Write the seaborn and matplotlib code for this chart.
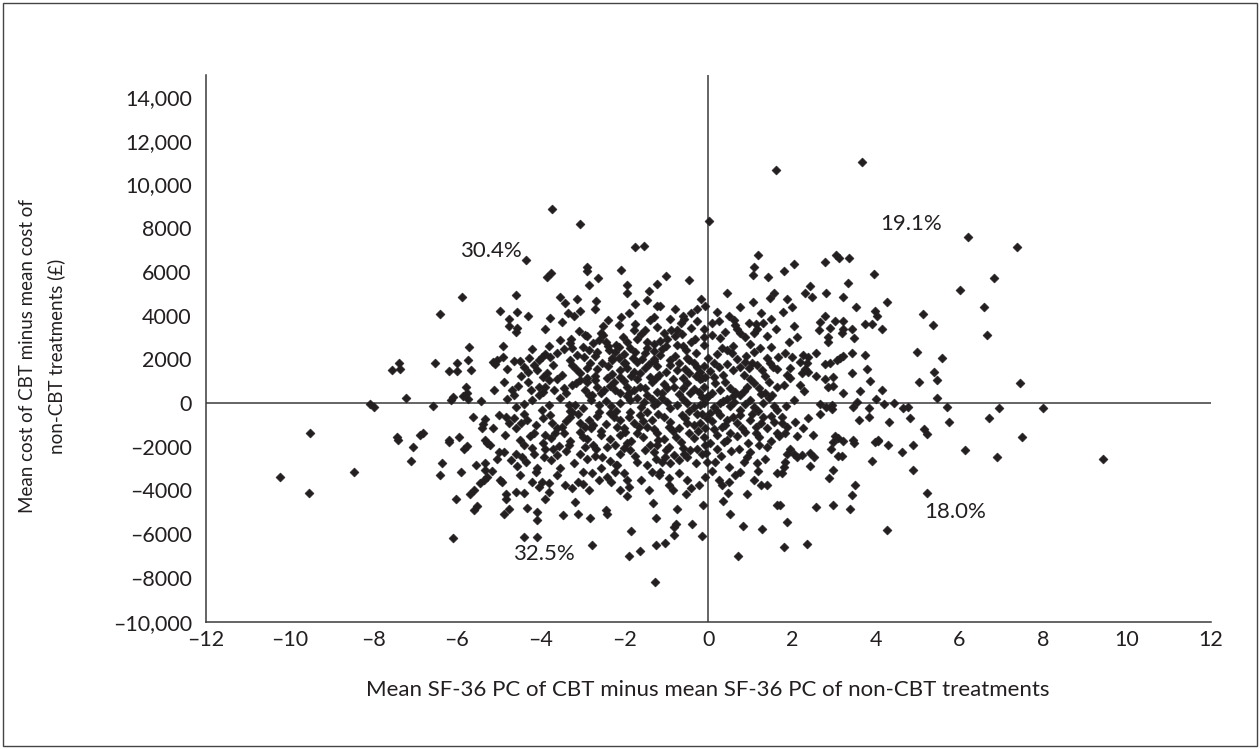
import matplotlib
matplotlib.use("Agg")
import matplotlib.pyplot as plt
import seaborn as sns
import pandas as pd
from matplotlib.patches import Rectangle

# Bootstrap replicates (difference in SF-36 PC, difference in cost £)
points_upper = [
    (-3.73, 8880), (-3.07, 8170), (0.01, 8330), (1.61, 10670), (-4.34, 6550), (-3.85, 5780),
    (-3.75, 5940), (-2.89, 6240), (-2.89, 6040), (-2.63, 5720), (-2.08, 6100), (-1.74, 7130),
    (-1.54, 7190), (-1.01, 5800), (-0.45, 5630), (1.06, 5860), (1.09, 6240), (1.19, 6780),
    (1.44, 5750), (3.67, 11000), (6.21, 7600), (7.37, 7130), (1.80, 6060), (2.05, 6360),
    (2.78, 6440), (3.05, 6750), (3.13, 6610), (3.36, 6620), (3.96, 5900), (6.83, 5700),
]
points_far_left = [
    (-5.87, 4870), (-6.41, 4050), (-4.98, 4230), (-5.72, 2580), (-7.38, 1850), (-7.54, 1510),
    (-7.35, 1540), (-6.52, 1820), (-5.99, 1850), (-5.74, 1970), (-6.19, 1450), (-6.00, 1450),
    (-5.66, 1510), (-5.14, 1890), (-5.05, 1970), (-5.08, 1790), (-5.11, 590), (-5.78, 720),
    (-5.76, 440), (-5.86, 320), (-5.73, 180), (-6.10, 260), (-6.13, 140), (-7.22, 240),
    (-5.42, 90), (-8.07, -50), (-7.99, -170), (-6.57, -120), (-5.62, -660), (-5.33, -750),
    (-5.37, -960), (-5.39, -1160), (-5.13, -1160), (-5.00, -550), (-9.52, -1390), (-7.42, -1540),
    (-6.88, -1480), (-6.82, -1390), (-6.20, -1700), (-5.94, -1540), (-5.33, -1670),
    (-10.23, -3400), (-9.53, -4110), (-8.47, -3150), (-7.06, -2000), (-7.09, -2670), (-6.36, -2760),
    (-6.40, -3280), (-5.91, -3150), (-6.20, -1800), (-5.84, -2080), (-5.76, -1970), (-5.55, -2830),
    (-5.34, -2730), (-5.33, -3070), (-5.17, -3100), (-5.05, -2580), (-5.00, -2230), (-5.28, -1820),
    (-5.20, -1920), (-5.46, -3650), (-5.36, -3500), (-5.29, -3380), (-5.68, -4140), (-5.60, -3990),
    (-6.02, -4400), (-5.59, -4900), (-5.51, -4720), (-6.10, -6180), (-4.98, -3530), (-7.41, -1700),
]
points_right = [
    (9.43, -2560), (6.13, -2150), (6.89, -2460), (4.88, -1920), (4.64, -2260), (4.88, -3070),
    (4.30, -1920), (3.91, -2670), (5.22, -4110), (4.26, -5820), (3.51, -3730), (3.43, -4220),
    (3.39, -4840), (2.99, -4670), (2.57, -4750), (1.89, -5440), (1.80, -6580), (2.35, -6440),
    (2.89, -3420), (2.99, -3070), (2.43, -2870), (2.93, -2120), (3.09, -2430), (3.19, -2430),
    (2.53, -2460), (2.43, -2280), (2.24, -2380), (2.12, -2460), (2.04, -2310), (1.96, -2080),
    (1.88, -2310), (1.84, -2690), (1.80, -2920), (1.76, -3220), (2.99, -1770), (3.23, -1740),
    (3.48, -1820), (3.99, -1770), (4.06, -1740), (1.72, -4670),
    (2.43, 5370), (3.35, 5480), (2.31, 5020), (2.47, 4870), (2.81, 5050), (3.21, 4870),
    (1.88, 4750), (1.78, 4150), (1.99, 4410), (3.53, 4370), (4.26, 4610), (3.99, 4210),
    (4.04, 4000), (5.14, 4050), (6.02, 5180), (6.59, 4400), (6.65, 3110), (5.38, 3590),
    (2.78, 3980), (2.66, 3690), (3.03, 3770), (3.21, 3770), (2.91, 3420), (2.65, 3340),
    (3.19, 3190), (3.23, 3370), (3.44, 3370), (3.48, 2960), (3.75, 3620), (3.91, 3620),
    (4.14, 3370), (2.04, 3540), (2.13, 3040), (1.92, 2810), (2.87, 3040), (2.86, 2780),
    (4.98, 2350), (5.59, 2080), (5.39, 1400), (5.47, 1050), (5.04, 950), (7.45, 900),
    (5.47, 240), (5.70, -200), (5.76, -860), (6.71, -700), (6.94, -220), (8.00, -220),
    (7.49, -1570), (5.15, -1210), (5.23, -1420), (1.84, 2270), (1.99, 2120), (2.27, 2200),
    (2.39, 2090), (2.58, 2300), (2.19, 1890), (2.35, 1820), (2.31, 1540), (2.39, 1430),
    (2.24, 1390), (1.96, 1590), (1.88, 1280), (1.96, 1130), (1.81, 820), (2.19, 820),
    (2.30, 550), (2.58, 1240), (2.79, 1080), (2.97, 1210), (2.87, 750), (2.99, 780),
    (2.78, 1770), (2.90, 1850), (3.07, 1970), (3.15, 2080), (3.23, 2150), (3.43, 2300),
    (3.75, 2200), (3.79, 1540), (3.43, 1390), (3.87, 1010), (4.14, 590), (3.63, 550),
    (3.21, 470), (4.01, 180), (4.20, -60), (4.44, 10), (4.65, -250), (4.76, -200),
    (4.82, -700), (4.33, -860), (3.83, -250), (3.85, -630), (3.56, 40), (3.45, -170),
    (3.59, -780), (2.95, -90), (2.82, -170), (2.95, -290), (2.66, -480), (2.66, -50),
    (2.04, 140), (1.86, -140), (2.38, -700), (2.08, -860), (2.27, -1160), (1.88, -1090),
    (1.84, -1390), (2.12, -1510), (2.50, -1470), (3.03, -1510), (3.11, -1620), (3.47, -1670),
    (4.06, -1670), (1.76, -630), (1.76, -930),
]
points_core_top = [
    (-2.85, 5400), (-1.94, 5400), (-1.94, 5050), (-1.22, 5450), (-1.42, 5130), (-4.59, 4920),
    (-3.53, 4870), (-3.13, 4760), (-2.67, 4670), (-3.43, 4560), (-1.74, 4520), (-1.46, 4720),
    (-1.22, 4440), (-1.14, 4440), (-0.16, 4760), (-0.07, 4440), (0.45, 5050), (1.06, 4610),
    (1.56, 5020), (1.48, 4790), (0.75, 4410), (-4.56, 4180), (-3.35, 4110), (-3.05, 4210),
    (-0.26, 4290), (-0.42, 4110), (-0.60, 3980), (0.21, 4150), (1.25, 4110), (-3.78, 3880),
    (-4.76, 3830), (-3.49, 3720), (-2.08, 3920), (-2.51, 3500), (-2.14, 3570), (-1.74, 3620),
    (-1.38, 3800), (-0.90, 3830), (-0.66, 3680), (-0.58, 3830), (-0.26, 3740), (0.25, 3770),
    (0.61, 3800), (0.65, 3570), (0.97, 3680), (1.13, 3620), (1.32, 3680), (-4.76, 3500),
    (-4.60, 3270), (-4.56, 3420), (-3.09, 3310), (-2.93, 3110), (-2.57, 3190), (-1.78, 3340),
    (-1.50, 3340), (-1.22, 3470), (-1.06, 3190), (-0.89, 3340), (-0.74, 3340), (-0.62, 3160),
    (-0.11, 3370), (-0.11, 3040), (-0.31, 2920), (0.09, 3110), (0.29, 2960), (0.69, 3370),
    (0.75, 3190), (0.89, 3040), (1.09, 3190), (1.17, 3370), (1.40, 3070), (1.63, 3370),
    (-4.90, 2610), (-3.54, 2890), (-3.27, 2920), (-2.75, 2760), (-2.61, 2890), (-2.45, 2810),
    (-2.03, 3010), (-1.94, 2810), (-1.70, 2920), (-1.46, 2810), (-1.14, 2850), (-0.98, 2920),
    (-1.46, 2500), (-1.29, 2400), (-0.74, 2660), (-0.54, 2430), (-0.09, 2660), (-3.45, 2460),
    (-3.25, 2500), (-2.85, 2430), (-2.65, 2350), (-2.37, 2430), (-2.22, 2350), (-2.14, 2580),
    (-1.86, 2500), (-1.74, 2350), (-1.16, 2200), (-0.90, 1970), (-0.50, 2040), (0.33, 2500),
    (0.45, 2430), (0.57, 2300), (1.23, 2500), (1.40, 2040), (1.66, 2120), (-4.28, 2040),
    (-3.97, 2090), (-3.77, 2090), (-4.64, 1940), (-4.90, 2090), (-3.13, 2200), (-2.97, 2090),
    (-3.25, 1740), (-3.15, 1540), (-3.05, 1390), (-2.83, 1850), (-2.65, 1540), (-2.53, 1820),
    (-2.29, 1970), (-2.14, 2040), (-1.98, 1850), (-1.70, 1890), (-1.58, 2000), (-1.42, 1790),
    (-1.22, 1690), (-1.94, 1590), (-2.10, 1510), (-1.78, 1430), (-1.62, 1360), (-1.38, 1210),
    (-1.18, 1280), (-0.74, 1510), (-0.70, 1820), (-0.35, 1850), (-0.27, 1630), (-0.19, 1430),
    (-0.20, 1080), (-0.07, 1210), (-0.60, 1130), (-0.47, 1360), (0.13, 1820), (0.25, 1630),
    (0.13, 1210), (0.45, 1790), (0.77, 1660), (0.89, 1890), (0.97, 1590), (1.17, 1740),
    (1.28, 1510), (1.48, 1820), (1.64, 1540), (-4.80, 1540), (-4.48, 1240), (-4.40, 1660),
    (-4.16, 1740), (-4.05, 1970), (-4.08, 1510), (-3.86, 1360), (-3.81, 1050), (-4.88, 980),
    (-4.68, 590), (-4.64, 370), (-4.24, 590), (-4.05, 750), (-4.05, 370), (-3.89, 750),
    (-3.69, 590), (-3.45, 670), (-3.25, 820), (-3.05, 1050), (-2.89, 980), (-2.77, 370),
    (-2.65, 750), (-2.49, 590), (-2.41, 1130), (-2.25, 980), (-2.22, 590), (-2.10, 440),
    (-1.94, 750), (-1.78, 590), (-1.62, 750), (-1.46, 370), (-1.22, 520), (-0.98, 670),
    (-0.82, 750), (-0.60, 670), (-0.43, 440), (-0.23, 520), (-0.15, 290), (-0.03, 290),
    (0.17, 900), (0.29, 590), (0.53, 670), (0.65, 520), (0.77, 370), (0.93, 750),
    (1.09, 900), (1.21, 670), (1.36, 440), (1.52, 370), (1.64, 750),
]
points_core_mid = [
    (-4.60, -170), (-4.40, -50), (-3.97, -320), (-3.33, -90), (-3.17, -90), (-2.81, 140),
    (-2.61, -400), (-2.33, -140), (-2.10, -20), (-1.86, 140), (-1.70, 210), (-1.54, 60),
    (-1.34, 170), (-1.22, -20), (-0.98, 60), (-0.74, -90), (-0.50, -20), (-0.35, -170),
    (-0.11, 10), (0.13, -170), (0.29, -20), (0.53, -140), (0.61, 60), (0.89, -50),
    (1.09, -170), (1.32, -20), (1.56, -140),
    (-4.84, -630), (-4.64, -700), (-4.48, -930), (-4.60, -1160), (-4.32, -780), (-4.16, -1390),
    (-3.77, -550), (-3.73, -930), (-3.89, -1470), (-3.65, -1390), (-3.49, -1090), (-3.29, -630),
    (-3.25, -400), (-3.05, -930), (-3.05, -1320), (-2.85, -780), (-2.81, -1160), (-2.57, -1470),
    (-2.25, -630), (-2.18, -1090), (-2.10, -780), (-1.98, -1320), (-1.86, -400), (-1.78, -930),
    (-1.70, -1390), (-1.62, -550), (-1.46, -1090), (-1.34, -780), (-1.22, -1390), (-1.06, -630),
    (-0.94, -1090), (-0.78, -1540), (-0.62, -550), (-0.50, -930), (-0.46, -1390), (-0.27, -480),
    (-0.19, -930), (-0.07, -1160), (-0.03, -700), (-0.11, -1540), (0.29, -550), (0.33, -1090),
    (0.45, -780), (0.53, -1390), (0.69, -930), (0.77, -550), (0.89, -1320), (1.01, -780),
    (1.13, -1090), (1.21, -1540), (1.32, -630), (1.40, -1160), (1.56, -860), (1.64, -1390),
]
points_core_low = [
    (-4.88, -2230), (-4.60, -2310), (-4.40, -1920), (-4.44, -2450), (-4.36, -2690), (-4.56, -2890),
    (-4.16, -2310), (-3.89, -2080), (-3.93, -2460), (-3.61, -2380), (-3.57, -1970), (-3.33, -1920),
    (-3.05, -2310), (-2.89, -2540), (-2.69, -2080), (-2.53, -2460), (-2.41, -2000), (-2.22, -1920),
    (-2.10, -2310), (-1.94, -1850), (-1.86, -2150), (-1.70, -2690), (-1.46, -2840), (-1.30, -2230),
    (-1.22, -1920), (-1.10, -2690), (-1.02, -2460), (-0.94, -2000), (-0.90, -2760), (-0.82, -2380),
    (-0.58, -2310), (-0.43, -2150), (-0.27, -2080), (-0.15, -2310), (-0.03, -2690), (-0.07, -1920),
    (0.17, -2690), (0.21, -2080), (0.37, -1770), (0.49, -2920), (0.73, -2080), (0.93, -2460),
    (0.77, -3150), (1.17, -2760), (1.21, -1920), (1.40, -2000), (1.64, -3220), (-4.92, -3600),
    (-4.84, -4140), (-4.84, -4370), (-4.60, -4060), (-4.40, -4110), (-4.88, -5060), (-4.76, -4860),
    (-4.32, -4780), (-4.08, -4980), (-4.08, -5360), (-4.40, -6120), (-4.08, -6120), (-4.12, -3150),
    (-4.08, -2990), (-4.04, -3830), (-3.97, -3600), (-3.81, -3650), (-3.81, -4060), (-3.89, -4410),
    (-3.53, -2950), (-3.43, -3760), (-3.46, -5130), (-3.19, -4520), (-3.11, -5060), (-3.11, -3600),
    (-2.99, -3150), (-2.85, -3960), (-2.83, -5240), (-2.77, -3220), (-2.57, -2990), (-2.43, -4900),
    (-2.41, -5090), (-2.41, -3380), (-2.33, -3600), (-2.22, -3150), (-2.18, -2840), (-2.11, -3960),
    (-1.95, -4260), (-1.94, -3530), (-1.90, -3830), (-1.84, -5850), (-1.90, -7010), (-1.63, -6780),
    (-2.77, -6490), (-1.42, -3960), (-1.32, -4570), (-1.24, -5280), (-1.24, -6510), (-1.04, -6400),
    (-1.26, -8190), (-1.18, -3300), (-1.14, -3150), (-0.94, -3450), (-0.94, -3760), (-0.84, -3990),
    (-0.82, -5670), (-0.78, -5510), (-0.82, -6050), (-0.74, -4830), (-0.53, -4140), (-0.51, -3530),
    (-0.39, -5510), (-0.23, -3760), (-0.12, -4670), (-0.15, -6080), (-0.07, -3380), (0.25, -3500),
    (0.33, -3760), (0.35, -4470), (0.47, -4110), (0.49, -3600), (0.51, -5090), (0.71, -7010),
    (0.82, -5620), (0.93, -4140), (1.09, -3530), (1.25, -3760), (1.40, -3760), (1.29, -5740),
    (1.64, -4670),
]
# overlapping replicates in the dense centre of the cloud (estimated)
points_core_fill = [
    (-3.3, 2750), (-2.9, 3050), (-2.2, 2650), (-1.6, 3150), (-1.3, 2700), (-0.8, 3050),
    (-0.4, 2780), (0.4, 3250), (1.0, 2700), (-3.8, 2600), (-2.5, 3100), (-1.0, 2600),
    (-3.6, 2300), (-3.0, 2550), (-2.7, 2150), (-2.4, 2620), (-2.0, 2250), (-1.8, 2050),
    (-1.5, 2300), (-1.1, 2450), (-0.8, 2150), (-0.6, 2600), (-0.3, 2300), (0.0, 2050),
    (0.2, 2250), (0.6, 2600), (0.9, 2150), (1.1, 2350), (1.5, 2550), (-4.2, 2450),
    (-3.9, 2250), (-2.3, 2050), (-1.3, 2000), (0.7, 2000),
    (-4.5, 1900), (-4.3, 1400), (-3.7, 1750), (-3.5, 1300), (-3.3, 1950), (-2.9, 1600),
    (-2.7, 1250), (-2.4, 1700), (-2.3, 1350), (-2.0, 1850), (-1.85, 1250), (-1.5, 1600),
    (-1.3, 1900), (-1.0, 1400), (-0.9, 1750), (-0.55, 1550), (-0.45, 1950), (-0.1, 1700),
    (0.05, 1450), (0.35, 1300), (0.6, 1500), (0.85, 1300), (1.05, 1850), (1.35, 1250),
    (1.55, 1650), (-3.95, 1200), (-2.1, 1200), (-0.3, 1250),
    (-4.3, 950), (-3.95, 500), (-3.6, 1100), (-3.4, 450), (-3.15, 900), (-2.95, 600),
    (-2.7, 1050), (-2.55, 450), (-2.35, 800), (-2.0, 1000), (-1.9, 450), (-1.7, 1100),
    (-1.5, 700), (-1.35, 950), (-1.1, 450), (-1.05, 850), (-0.85, 1100), (-0.7, 400),
    (-0.5, 900), (-0.35, 650), (-0.1, 750), (0.1, 450), (0.4, 950), (0.6, 300),
    (0.85, 550), (1.0, 1100), (1.25, 400), (1.45, 950), (-4.55, 800), (-2.9, 1150),
    (-1.25, 1150), (-0.15, 1150),
    (-4.2, 150), (-3.8, -100), (-3.55, 250), (-3.0, -250), (-2.85, 350), (-2.45, 100),
    (-2.2, -350), (-1.95, 300), (-1.6, -200), (-1.45, -400), (-1.1, 250), (-0.9, -250),
    (-0.6, 200), (-0.45, -350), (-0.2, -100), (0.0, 300), (0.2, -350), (0.45, 200),
    (0.75, -300), (1.0, 150), (1.2, -350), (1.45, 250), (1.65, -300), (-4.8, 200),
    (-3.3, -350), (-2.6, -100), (-1.3, -100), (0.35, 100),
    (-4.4, -500), (-4.1, -1000), (-3.95, -700), (-3.6, -1150), (-3.4, -800), (-3.1, -500),
    (-2.95, -1100), (-2.65, -600), (-2.45, -950), (-2.35, -450), (-2.0, -1150), (-1.9, -650),
    (-1.55, -800), (-1.3, -1200), (-1.2, -500), (-0.9, -850), (-0.7, -1150), (-0.55, -700),
    (-0.35, -1000), (-0.15, -500), (0.1, -800), (0.15, -1200), (0.4, -1000), (0.6, -650),
    (0.8, -1150), (1.05, -500), (1.25, -900), (1.5, -600), (-4.75, -900), (-2.75, -1000),
    (-1.65, -1100), (0.05, -450),
    (-4.5, -1700), (-4.25, -1500), (-3.95, -1850), (-3.75, -1600), (-3.45, -1350), (-3.3, -1750),
    (-3.0, -1550), (-2.75, -1900), (-2.55, -1300), (-2.35, -1650), (-2.1, -1450), (-1.85, -1750),
    (-1.55, -1550), (-1.4, -1900), (-1.05, -1650), (-0.85, -1300), (-0.65, -1800), (-0.35, -1600),
    (-0.25, -1300), (0.05, -1850), (0.2, -1450), (0.45, -1700), (0.7, -1500), (0.95, -1850),
    (1.15, -1350), (1.5, -1750), (1.7, -1500), (-4.85, -1450), (-2.9, -1650), (-1.2, -1700),
    (-4.7, -2600), (-4.2, -2050), (-3.75, -2600), (-3.4, -2200), (-3.2, -2750), (-2.95, -2000),
    (-2.7, -2400), (-2.35, -2650), (-2.0, -2050), (-1.75, -2400), (-1.5, -2150), (-1.25, -2550),
    (-1.0, -2150), (-0.7, -2600), (-0.5, -2450), (-0.3, -2750), (-0.05, -2300), (0.3, -2400),
    (0.55, -2200), (0.85, -2700), (1.0, -2250), (1.35, -2550), (-3.7, -2100), (-2.2, -2850),
    (-0.6, -2050),
    (-4.5, -3300), (-4.2, -3600), (-3.6, -3300), (-3.25, -3900), (-2.6, -3500), (-2.0, -3200),
    (-1.6, -3500), (-1.35, -3150), (-0.7, -3200), (-0.4, -3900), (0.1, -3100), (0.65, -3300),
    (1.2, -3100), (-3.0, -3700),
    (-3.9, 3400), (-3.2, 4000), (-2.4, 3800), (-1.9, 4100), (-1.3, 3950), (-0.8, 4300),
    (-0.4, 3450), (0.1, 3650), (0.5, 4000), (1.5, 3850), (-4.3, 4000), (-2.7, 4300),
]

x_ticks = [-12, -10, -8, -6, -4, -2, 0, 2, 4, 6, 8, 10, 12]
x_tick_labels = ["\u201312", "\u201310", "\u20138", "\u20136", "\u20134", "\u20132", "0",
                 "2", "4", "6", "8", "10", "12"]
y_ticks = [-10000, -8000, -6000, -4000, -2000, 0, 2000, 4000, 6000, 8000, 10000, 12000, 14000]
y_tick_labels = ["\u201310,000", "\u20138000", "\u20136000", "\u20134000", "\u20132000", "0",
                 "2000", "4000", "6000", "8000", "10,000", "12,000", "14,000"]
quadrant_labels = ["30.4%", "19.1%", "32.5%", "18.0%"]
quadrant_x = [-5.20, 4.85, -3.93, 5.89]
quadrant_y = [6950, 8170, -6910, -4980]

all_points = (points_upper + points_far_left + points_right + points_core_top
              + points_core_mid + points_core_low + points_core_fill)
df = pd.DataFrame(all_points, columns=["pc_diff", "cost_diff"])

sns.set_style("white")
plt.rcParams["font.family"] = ["Lato", "DejaVu Sans"]

ink = "#231f20"
line_col = "#3a3a3a"

fig = plt.figure(figsize=(12.6, 7.49), dpi=100)
ax = fig.add_axes([0.16325, 0.16996, 0.7976, 0.7299])

ax.axhline(0, color=line_col, lw=1.1, zorder=2)
ax.axvline(0, color=line_col, lw=1.1, zorder=2)

sns.scatterplot(data=df, x="pc_diff", y="cost_diff", marker="D", s=21, color=ink,
                edgecolor=ink, linewidth=0.4, ax=ax, legend=False, zorder=3)

ax.set_xlim(-12, 12)
ax.set_ylim(-10000, 15000)
ax.set_xticks(x_ticks)
ax.set_xticklabels(x_tick_labels)
ax.set_yticks(y_ticks)
ax.set_yticklabels(y_tick_labels)
ax.tick_params(axis="both", length=0, labelsize=15.5, colors=ink)
ax.tick_params(axis="y", pad=10)
ax.tick_params(axis="x", pad=6)

for side in ["top", "right"]:
    ax.spines[side].set_visible(False)
for side in ["left", "bottom"]:
    ax.spines[side].set_color(line_col)
    ax.spines[side].set_linewidth(1.1)

ax.set_xlabel("Mean SF-36 PC of CBT minus mean SF-36 PC of non-CBT treatments",
              fontsize=16, color=ink)
ax.xaxis.label.set_va("center")
ax.xaxis.set_label_coords(0.5, -0.125)
ax.set_ylabel("Mean cost of CBT minus mean cost of\nnon-CBT treatments (\u00a3)",
              fontsize=13.5, color=ink, linespacing=1.75)
ax.yaxis.label.set_va("center")
ax.yaxis.set_label_coords(-0.163, 0.486)

for lab, qx, qy in zip(quadrant_labels, quadrant_x, quadrant_y):
    ax.text(qx, qy, lab, ha="center", va="center", fontsize=16, color=ink, zorder=4)

fig.patches.append(Rectangle((0.0024, 0.004), 0.9952, 0.992, transform=fig.transFigure,
                             fill=False, lw=1.0, ec="#444444"))

fig.savefig("out.png", dpi=100)
